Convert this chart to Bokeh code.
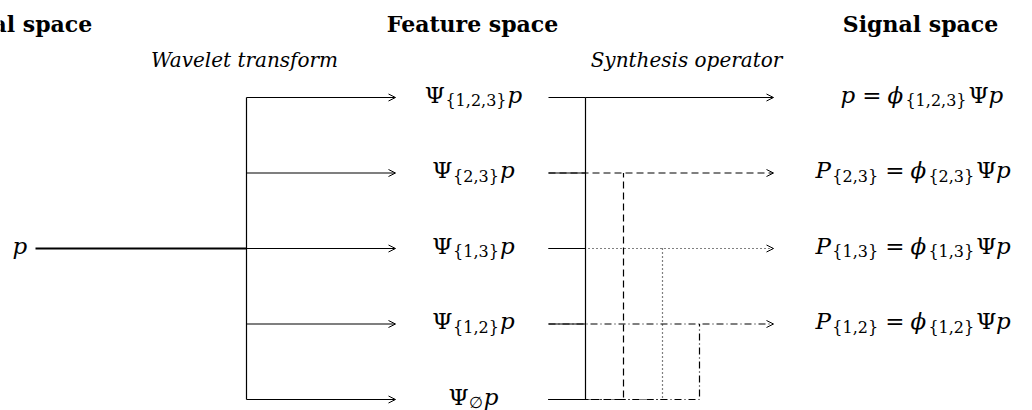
from bokeh.plotting import figure
from bokeh.models import Range1d, ColumnDataSource, Arrow, OpenHead
from bokeh.core.properties import value
from bokeh.embed import file_html
from bokeh.resources import INLINE

# ---------------- data ----------------
headers = ["Signal space", "Feature space", "Signal space"]
operators = ["Wavelet transform", "Synthesis operator"]
input_label = "p"
subsets = ["{1,2,3}", "{2,3}", "{1,3}", "{1,2}", "\u2205"]
output_subsets = ["{1,2,3}", "{2,3}", "{1,3}", "{1,2}"]
path_styles = ["solid", "7 4", "1 3", "7 3 1 3"]

# ---------------- layout constants (screen px) ----------------
W, H = 1032, 410
ROW0, PITCH = 97, 75.5
rows = [ROW0 + PITCH * i for i in range(len(subsets))]
X_IN_TXT, X_IN0, X_SPLIT, X_FEAT_ARROW = 12, 35, 246, 395
X_FEAT_C, X_FEAT_E, X_COLLECT, X_OUT_ARROW = 473, 548, 585, 773
X_PATHS = [X_COLLECT, 623, 662, 699]
X_OUT_L = [840, 815, 815, 815]
HEAD_Y, OP_Y = 23, 59
HEAD_X = [14, 472, 920]
OP_X = [244, 686]
BASE = -3

FONT = "DejaVu Serif"
M, S = 23, 16

p = figure(width=W, height=H, x_range=Range1d(0, W), y_range=Range1d(H, 0),
           output_backend="svg", toolbar_location=None, min_border=0,
           x_axis_type=None, y_axis_type=None)
p.grid.visible = False
p.outline_line_color = None

# --- text composer ---
EM_UP = {"{": 0.64, "}": 0.64, ",": 0.318, "=": 0.838, "\u03a8": 0.86,
         "\u2205": 0.83, " ": 0.318}
EM_IT = {"p": 0.64, "P": 0.73, "\u03d5": 0.78}


def width(txt, style, size):
    tbl = EM_IT if style == "italic" else EM_UP
    return sum(tbl.get(c, 0.636) for c in txt) * size


T = dict(x=[], y=[], text=[], style=[], size=[])


def compose(x, y, parts, align="left"):
    total = sum(width(t, st, sz) + g for t, st, sz, dy, g in parts)
    cx = x - total / 2 if align == "center" else x
    for t, st, sz, dy, g in parts:
        T["x"].append(cx)
        T["y"].append(y + dy)
        T["text"].append(t)
        T["style"].append(st)
        T["size"].append(f"{sz}px")
        cx += width(t, st, sz) + g


# headers
for hx, h in zip(HEAD_X, headers):
    p.text(x=[hx], y=[HEAD_Y], text=[h], text_font=value(FONT), text_font_style="bold",
           text_font_size="22px", text_align="center", text_baseline="alphabetic",
           text_color="black")
for ox, o in zip(OP_X, operators):
    p.text(x=[ox], y=[OP_Y], text=[o], text_font=value(FONT), text_font_style="italic",
           text_font_size="20px", text_align="center", text_baseline="alphabetic",
           text_color="black")

# input
compose(X_IN_TXT, rows[2] + BASE, [(input_label, "italic", M, 0, 0)])
# feature labels
for r, sub in zip(rows, subsets):
    compose(X_FEAT_C, r + BASE, [("\u03a8", "normal", M, 0, 1),
                                 (sub, "normal", S, 6, 1),
                                 ("p", "italic", M, 0, 0)], align="center")
# output labels
for i, (r, sub) in enumerate(zip(rows, output_subsets)):
    if i == 0:
        head = [("p", "italic", M, 0, 7)]
    else:
        head = [("P", "italic", M, 0, 0), (sub, "normal", S, 6, 7)]
    compose(X_OUT_L[i], r + BASE, head + [("=", "normal", M, 0, 6),
                                          ("\u03d5", "italic", M, 0, 0),
                                          (sub, "normal", S, 6, 2),
                                          ("\u03a8", "normal", M, 0, 0),
                                          ("p", "italic", M, 0, 0)])

p.text(x="x", y="y", text="text", source=ColumnDataSource(T), text_font=value(FONT),
       text_font_style="style", text_font_size="size", text_align="left",
       text_baseline="alphabetic", text_color="black")

LW = 1.2
# wavelet transform part
p.line([X_IN0, X_SPLIT], [rows[2], rows[2]], line_color="black", line_width=1.8)
p.line([X_SPLIT, X_SPLIT], [rows[0], rows[-1]], line_color="black", line_width=LW)
p.add_layout(Arrow(end=OpenHead(size=7, line_width=1, line_color="black"),
                   source=ColumnDataSource(dict(x0=[X_SPLIT] * len(rows), y0=rows,
                                                x1=[X_FEAT_ARROW] * len(rows), y1=rows)),
                   x_start="x0", y_start="y0", x_end="x1", y_end="y1",
                   line_color="black", line_width=LW))

# synthesis part: solid collector
p.multi_line([[X_FEAT_E, X_COLLECT] for _ in rows[1:4]], [[r, r] for r in rows[1:4]],
             line_color="black", line_width=LW)
for k, (xk, dash) in enumerate(zip(X_PATHS, path_styles)):
    p.line([X_FEAT_E, xk, xk], [rows[-1], rows[-1], rows[k]], line_color="black",
           line_width=LW, line_dash=dash)
    p.add_layout(Arrow(end=OpenHead(size=7, line_width=1, line_color="black"),
                       x_start=X_FEAT_E if k else X_COLLECT, y_start=rows[k],
                       x_end=X_OUT_ARROW, y_end=rows[k],
                       line_color="black", line_width=LW, line_dash=dash))
# short solid stub at top row
p.line([X_FEAT_E, X_COLLECT], [rows[0], rows[0]], line_color="black", line_width=LW)

open("out.html", "w").write(file_html(p, INLINE))
